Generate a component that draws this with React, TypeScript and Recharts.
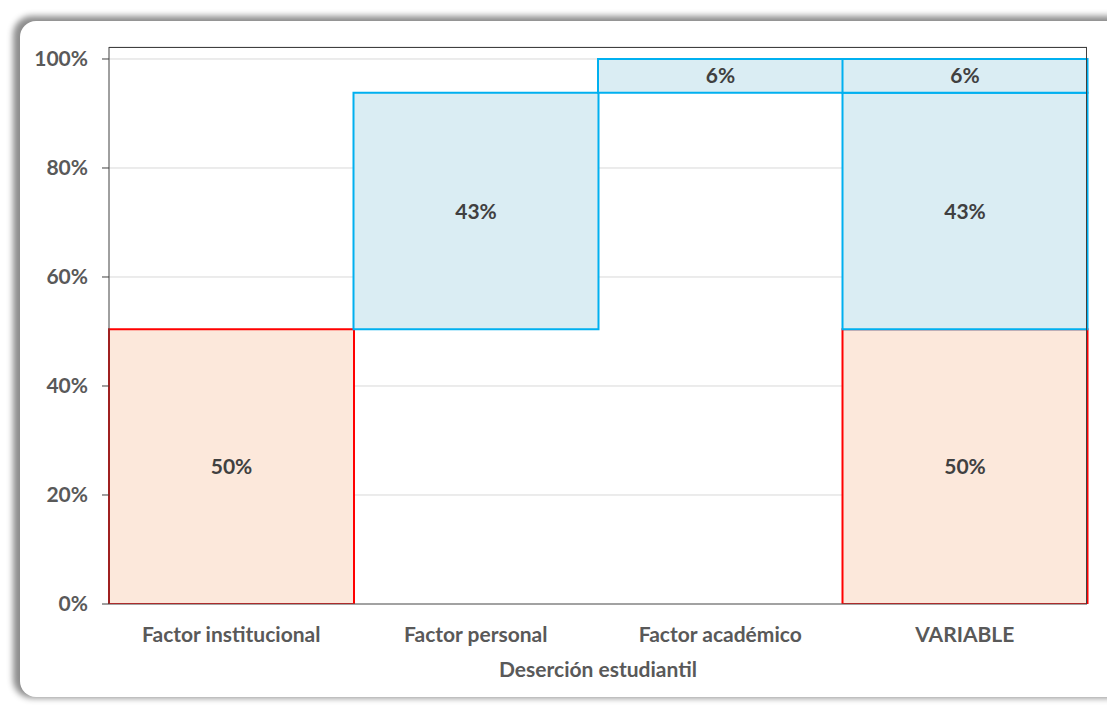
import { Bar, BarChart, CartesianGrid, LabelList, XAxis, YAxis } from "recharts";

const categories = ["Factor institucional", "Factor personal", "Factor académico", "VARIABLE"];
const institucional = 50.4;
const personal = 43.4;
const academico = 6.2;
const yTicks = [0, 20, 40, 60, 80, 100];

// waterfall: invisible base + visible steps, last column is the stacked total
const data = [
  { name: categories[0], base: 0, inst: institucional },
  { name: categories[1], base: institucional, pers: personal },
  { name: categories[2], base: institucional + personal, acad: academico },
  { name: categories[3], base: 0, inst: institucional, pers: personal, acad: academico },
];

const textColor = "#595959";
const font = "Lato, 'Open Sans', sans-serif";
const fs = 21;
const fmt = (v: any) => (v == null ? "" : `${Math.round(Number(v))}%`);

const App = () => {
  return (
    <div style={{ position: "absolute", left: 0, top: 0, width: 1107, height: 706, overflow: "hidden", background: "#fff" }}>
      <div
        style={{
          position: "absolute",
          left: 20,
          top: 21,
          width: 1110,
          height: 676,
          borderRadius: 16,
          background: "#fff",
          boxShadow: "-4px -2px 6px 3px rgba(0,0,0,0.45)",
        }}
      />
      <div style={{ position: "absolute", left: 0, top: 0 }}>
        <BarChart
          width={1107}
          height={706}
          data={data}
          barCategoryGap={0}
          margin={{ top: 47, right: 20, bottom: 22, left: 29 }}
          style={{ fontFamily: font }}
        >
          <CartesianGrid vertical={false} stroke="#d9d9d9" />
          <XAxis
            dataKey="name"
            height={80}
            tickLine={false}
            tickSize={0}
            tickMargin={23}
            axisLine={{ stroke: "#595959" }}
            tick={{ fill: textColor, fontSize: fs, fontWeight: 700 }}
            label={{ value: "Deserción estudiantil", position: "insideBottom", offset: 7, fill: textColor, fontSize: fs, fontWeight: 700 }}
          />
          <YAxis
            width={80}
            domain={[0, 102.2]}
            ticks={yTicks}
            allowDataOverflow
            tickSize={7}
            tickMargin={14}
            tickFormatter={(v) => `${v}%`}
            axisLine={{ stroke: "#404040" }}
            tickLine={{ stroke: "#404040" }}
            tick={{ fill: textColor, fontSize: fs, fontWeight: 700 }}
          />
          <Bar dataKey="base" stackId="w" fill="transparent" stroke="none" isAnimationActive={false} />
          <Bar dataKey="inst" stackId="w" fill="#fce8db" stroke="#ff0000" strokeWidth={2} isAnimationActive={false}>
            <LabelList dataKey="inst" position="center" formatter={fmt} fill="#404040" fontSize={fs} fontWeight={700} />
          </Bar>
          <Bar dataKey="pers" stackId="w" fill="#daedf3" stroke="#00b0f0" strokeWidth={2} isAnimationActive={false}>
            <LabelList dataKey="pers" position="center" formatter={fmt} fill="#404040" fontSize={fs} fontWeight={700} />
          </Bar>
          <Bar dataKey="acad" stackId="w" fill="#daedf3" stroke="#00b0f0" strokeWidth={2} isAnimationActive={false}>
            <LabelList dataKey="acad" position="center" formatter={fmt} fill="#404040" fontSize={fs} fontWeight={700} />
          </Bar>
        </BarChart>
      </div>
      {/* plot-area frame */}
      <div
        style={{
          position: "absolute",
          left: 109,
          top: 47,
          width: 978,
          height: 557,
          boxSizing: "border-box",
          borderTop: "1px solid #404040",
          borderRight: "1px solid #404040",
          pointerEvents: "none",
        }}
      />
    </div>
  );
};

export default App;
